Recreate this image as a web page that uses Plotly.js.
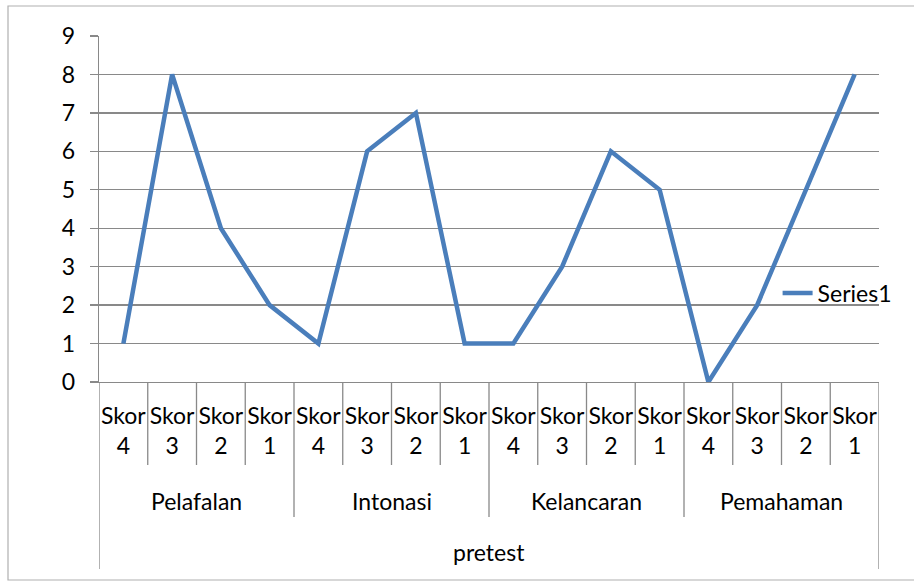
<!DOCTYPE html>
<html>
<head>
<meta charset="utf-8">
<script src="https://cdn.plot.ly/plotly-3.0.1.min.js"></script>
<style>html,body{margin:0;padding:0;background:#fff;}#chart{width:914px;height:581px;}</style>
</head>
<body>
<div id="chart"></div>
<script>
// ---- data ----
const topLabel = 'pretest';
const groups = ['Pelafalan', 'Intonasi', 'Kelancaran', 'Pemahaman'];
const skorLabels = ['Skor 4', 'Skor 3', 'Skor 2', 'Skor 1'];
const pelafalan = [1, 8, 4, 2];
const intonasi = [1, 6, 7, 1];
const kelancaran = [1, 3, 6, 5];
const pemahaman = [0, 2, 5, 8];
const seriesName = 'Series1';

// ---- build ----
const groupValues = [pelafalan, intonasi, kelancaran, pemahaman];
const xs = [], ys = [], tickText = [];
groups.forEach((g, gi) => {
  skorLabels.forEach((s, si) => {
    xs.push(gi * skorLabels.length + si);
    ys.push(groupValues[gi][si]);
    tickText.push(s.replace(' ', '<br>'));
  });
});
const n = xs.length;
const per = skorLabels.length;

const gray = '#898989';
const font = {family: 'Lato, Carlito, sans-serif', size: 23, color: '#000'};

// paper-y positions (plot height = 346)
const H = 346;
const py = px => -px / H;

const shapes = [];
// inner dividers
for (let i = 0; i <= n; i++) {
  let depth = 83;
  if (i % per === 0) depth = 135;
  if (i === 0 || i === n) depth = 187;
  shapes.push({type: 'line', xref: 'x', yref: 'paper', x0: i - 0.5, x1: i - 0.5,
    y0: 0, y1: py(depth), line: {color: gray, width: 1.3}});
}
// outer frame
shapes.push({type: 'rect', xref: 'paper', yref: 'paper',
  x0: -91 / 780, x1: 830 / 780, y0: py(198), y1: 376 / H,
  line: {color: '#b0b0b0', width: 1.2}, layer: 'below'});

const annotations = [];
groups.forEach((g, gi) => {
  annotations.push({xref: 'x', yref: 'paper', x: gi * per + (per - 1) / 2, y: py(119),
    text: g, showarrow: false, font: font, yanchor: 'middle', xanchor: 'center'});
});
annotations.push({xref: 'x', yref: 'paper', x: (n - 1) / 2, y: py(170),
  text: topLabel, showarrow: false, font: font, yanchor: 'middle', xanchor: 'center'});

const trace = {
  type: 'scatter', mode: 'lines', name: seriesName,
  x: xs, y: ys,
  line: {color: '#4a7ebb', width: 4.5},
  showlegend: true
};

const layout = {
  width: 914, height: 581,
  margin: {l: 99, r: 35, t: 36, b: 199},
  paper_bgcolor: '#fff', plot_bgcolor: '#fff',
  font: font,
  showlegend: true,
  legend: {x: 0.87, y: 0.257, xanchor: 'left', yanchor: 'middle',
    bgcolor: 'rgba(0,0,0,0)', font: font},
  xaxis: {
    range: [-0.5, n - 0.5], showgrid: false, zeroline: false,
    showline: true, linecolor: gray, linewidth: 1.3,
    tickmode: 'array', tickvals: xs, ticktext: tickText, ticks: '',
    tickfont: font, ticklabelstandoff: 13
  },
  yaxis: {
    range: [0, 9], dtick: 1, tick0: 0, showgrid: true, gridcolor: gray, gridwidth: 1.3,
    zeroline: false, showline: true, linecolor: gray, linewidth: 1.3,
    ticks: 'outside', ticklen: 8, tickcolor: gray, tickwidth: 1.3,
    tickfont: font, ticklabelstandoff: 10
  },
  shapes: shapes,
  annotations: annotations
};

Plotly.newPlot('chart', [trace], layout, {displayModeBar: false, staticPlot: true});
</script>
</body>
</html>
